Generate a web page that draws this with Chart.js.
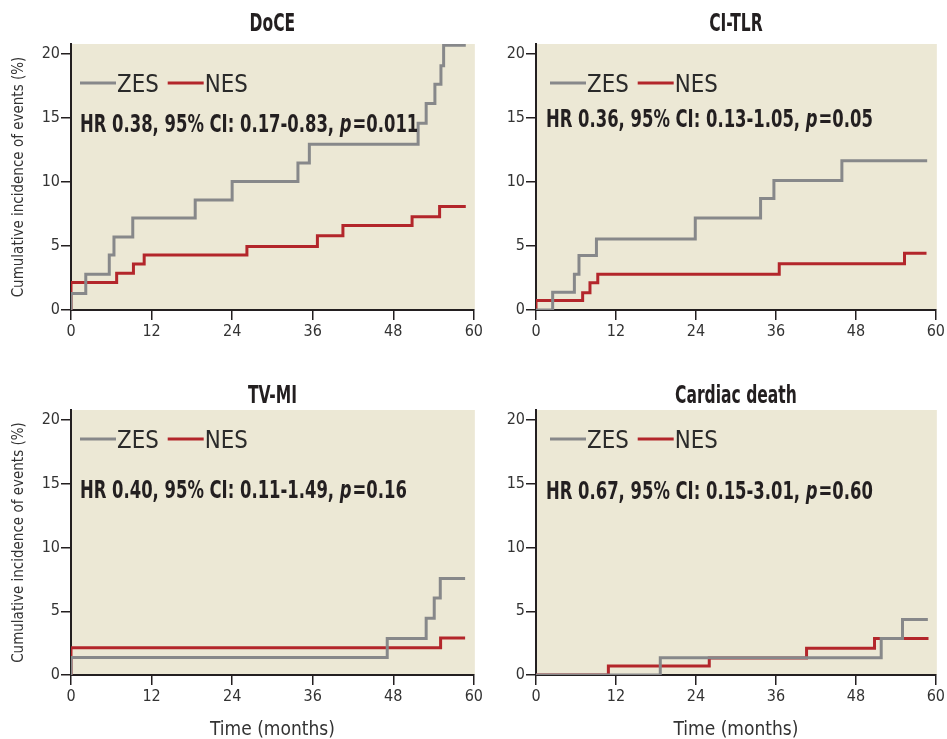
<!DOCTYPE html>
<html>
<head>
<meta charset="utf-8">
<script src="https://cdn.jsdelivr.net/npm/chart.js@4.4.1/dist/chart.umd.min.js"></script>
<style>
  body { margin: 0; background: #fff; }
  #wrap { position: relative; width: 947px; height: 739px; }
  .panel { position: absolute; }
</style>
</head>
<body>
<div id="wrap">
  <div class="panel" id="p1" style="left:0;top:0;width:485px;height:350px"><canvas id="c1"></canvas></div>
  <div class="panel" id="p2" style="left:480px;top:0;width:467px;height:350px"><canvas id="c2"></canvas></div>
  <div class="panel" id="p3" style="left:0;top:366px;width:485px;height:373px"><canvas id="c3"></canvas></div>
  <div class="panel" id="p4" style="left:480px;top:366px;width:467px;height:373px"><canvas id="c4"></canvas></div>
</div>
<script>
// tick labels
const xTickValues = [0, 12, 24, 36, 48, 60];
const yTickValues = [0, 5, 10, 15, 20];
const seriesNames = ["ZES", "NES"];

// DoCE
const doceZesMonths = [0, 0, 2.2, 5.7, 6.4, 9.2, 18.5, 24.0, 33.8, 35.5, 51.7, 52.9, 54.2, 55.1, 55.5, 58.8];
const doceZesPct    = [0, 1.3, 2.8, 4.3, 5.7, 7.2, 8.6, 10.05, 11.5, 12.97, 14.6, 16.15, 17.66, 19.1, 20.7, 20.7];
const doceNesMonths = [0, 0, 6.8, 9.3, 10.9, 26.2, 36.7, 40.5, 50.8, 54.9, 58.8];
const doceNesPct    = [0, 2.16, 2.87, 3.6, 4.3, 4.97, 5.8, 6.6, 7.3, 8.1, 8.1];

// CI-TLR
const tlrZesMonths = [0, 2.5, 5.76, 6.45, 9.07, 23.9, 33.7, 35.7, 45.9, 58.7];
const tlrZesPct    = [0, 1.38, 2.8, 4.27, 5.55, 7.19, 8.72, 10.13, 11.67, 11.67];
const tlrNesMonths = [0, 0, 7.0, 8.1, 9.27, 36.5, 55.3, 58.6];
const tlrNesPct    = [0, 0.75, 1.35, 2.14, 2.8, 3.62, 4.43, 4.43];

// TV-MI
const miZesMonths = [0, 0, 47.1, 52.9, 54.1, 55.0, 58.7];
const miZesPct    = [0, 1.38, 2.87, 4.46, 6.05, 7.57, 7.57];
const miNesMonths = [0, 0, 55.05, 58.7];
const miNesPct    = [0, 2.14, 2.9, 2.9];

// Cardiac death
const cdZesMonths = [0, 18.65, 51.8, 55.0, 58.8];
const cdZesPct    = [0, 1.36, 2.87, 4.36, 4.36];
const cdNesMonths = [0, 10.86, 26.0, 40.6, 50.8, 58.9];
const cdNesPct    = [0, 0.7, 1.33, 2.09, 2.87, 2.87];

const NARROW = '"DejaVu Sans Condensed", "Liberation Sans Narrow", sans-serif';
const ZES_COLOR = '#87888a';
const NES_COLOR = '#b3262b';
const BG = '#ece8d5';
const INK = '#231f20';

function pts(xs, ys) {
    return xs.map(function (x, i) { return { x: x, y: ys[i] }; });
}

// text squeezed sideways to look like the condensed face of the original
function squeezed(ctx, text, x, y, sx) {
    ctx.save();
    ctx.translate(x, y);
    ctx.scale(sx, 1);
    ctx.fillText(text, 0, 0);
    ctx.restore();
    return ctx.measureText(text).width * sx;
}

// background, title, legend and HR note
const panelDecor = {
    id: 'panelDecor',
    beforeDraw: function (chart) {
        const a = chart.chartArea, ctx = chart.ctx;
        ctx.save();
        ctx.fillStyle = BG;
        ctx.fillRect(a.left, a.top, a.right - a.left + 1, a.bottom - a.top);
        ctx.restore();
    },
    afterDraw: function (chart, args, o) {
        const a = chart.chartArea, ctx = chart.ctx;
        ctx.save();
        ctx.fillStyle = INK;
        ctx.textBaseline = 'alphabetic';

        // title
        ctx.font = 'bold 24px ' + NARROW;
        ctx.textAlign = 'center';
        squeezed(ctx, o.title, (a.left + a.right) / 2, o.titleY, 0.72);

        // legend
        ctx.textAlign = 'left';
        let x = a.left + o.legX;
        const ly = a.top + o.legY;
        ctx.font = '25px ' + NARROW;
        [ZES_COLOR, NES_COLOR].forEach(function (c, i) {
            ctx.strokeStyle = c;
            ctx.lineWidth = 3;
            ctx.beginPath();
            ctx.moveTo(x, ly);
            ctx.lineTo(x + 36, ly);
            ctx.stroke();
            ctx.fillStyle = '#2a2a2a';
            const w = squeezed(ctx, seriesNames[i], x + 37, ly + 9, 0.95);
            x += 37 + w + 9;
        });

        // HR note with italic p
        let hx = a.left + o.hrX;
        const hy = a.top + o.hrY;
        const sx = 0.73;
        ctx.fillStyle = INK;
        ctx.font = 'bold 25px ' + NARROW;
        hx += squeezed(ctx, o.hr[0], hx, hy, sx);
        ctx.font = 'italic bold 25px ' + NARROW;
        hx += squeezed(ctx, 'p', hx, hy, sx) + 1;
        ctx.font = 'bold 25px ' + NARROW;
        squeezed(ctx, o.hr[1], hx, hy, sx);
        ctx.restore();
    }
};

function makeChart(id, cfg) {
    new Chart(document.getElementById(id), {
        type: 'line',
        data: {
            datasets: [
                { label: 'ZES', data: pts(cfg.zx, cfg.zy), borderColor: ZES_COLOR, borderWidth: 3,
                  stepped: 'before', pointRadius: 0, fill: false, order: 0 },
                { label: 'NES', data: pts(cfg.nx, cfg.ny), borderColor: NES_COLOR, borderWidth: 3,
                  stepped: 'before', pointRadius: 0, fill: false, order: 1 }
            ]
        },
        options: {
            responsive: true,
            maintainAspectRatio: false,
            animation: false,
            layout: { padding: { top: cfg.padTop, right: cfg.padRight, left: 0, bottom: 0 } },
            plugins: {
                legend: { display: false },
                tooltip: { enabled: false },
                panelDecor: cfg.decor
            },
            scales: {
                x: {
                    type: 'linear', min: 0, max: 60,
                    afterBuildTicks: function (s) { s.ticks = xTickValues.map(function (v) { return { value: v }; }); },
                    afterFit: function (s) { s.height = cfg.xHeight; },
                    border: { display: true, color: INK, width: 2 },
                    grid: { drawOnChartArea: false, drawTicks: true, tickLength: 10, color: INK, lineWidth: 1.5 },
                    ticks: { color: '#333', padding: 2, maxRotation: 0, font: { family: NARROW, size: 16 } },
                    title: { display: cfg.xTitle, text: 'Time (months)', color: '#333',
                             font: { family: NARROW, size: 19 }, padding: { top: 0, bottom: -2 } }
                },
                y: {
                    min: 0, max: 20.8,
                    afterBuildTicks: function (s) { s.ticks = yTickValues.map(function (v) { return { value: v }; }); },
                    afterFit: function (s) { s.width = cfg.yWidth; },
                    border: { display: true, color: INK, width: 2 },
                    grid: { drawOnChartArea: false, drawTicks: true, tickLength: 10, color: INK, lineWidth: 1.5 },
                    ticks: { color: '#333', padding: 1, font: { family: NARROW, size: 16 } },
                    title: { display: cfg.yTitle, text: 'Cumulative incidence of events (%)', color: '#333',
                             font: { family: NARROW, size: 15 }, padding: { top: 10, bottom: 0 } }
                }
            }
        },
        plugins: [panelDecor]
    });
}

makeChart('c1', {
    zx: doceZesMonths, zy: doceZesPct, nx: doceNesMonths, ny: doceNesPct,
    padTop: 44, padRight: 10, yWidth: 71, xHeight: 40, xTitle: false, yTitle: true,
    decor: { title: 'DoCE', titleY: 31, legX: 9, legY: 39, hrX: 9, hrY: 88,
             hr: ['HR 0.38, 95% CI: 0.17-0.83, ', '=0.011'] }
});
makeChart('c2', {
    zx: tlrZesMonths, zy: tlrZesPct, nx: tlrNesMonths, ny: tlrNesPct,
    padTop: 44, padRight: 7, yWidth: 56, xHeight: 40, xTitle: false, yTitle: false,
    decor: { title: 'CI-TLR', titleY: 31, legX: 14, legY: 39, hrX: 10, hrY: 83,
             hr: ['HR 0.36, 95% CI: 0.13-1.05, ', '=0.05'] }
});
makeChart('c3', {
    zx: miZesMonths, zy: miZesPct, nx: miNesMonths, ny: miNesPct,
    padTop: 44, padRight: 10, yWidth: 71, xHeight: 64, xTitle: true, yTitle: true,
    decor: { title: 'TV-MI', titleY: 37, legX: 9, legY: 29, hrX: 9, hrY: 88,
             hr: ['HR 0.40, 95% CI: 0.11-1.49, ', '=0.16'] }
});
makeChart('c4', {
    zx: cdZesMonths, zy: cdZesPct, nx: cdNesMonths, ny: cdNesPct,
    padTop: 44, padRight: 7, yWidth: 56, xHeight: 64, xTitle: true, yTitle: false,
    decor: { title: 'Cardiac death', titleY: 37, legX: 14, legY: 29, hrX: 10, hrY: 89,
             hr: ['HR 0.67, 95% CI: 0.15-3.01, ', '=0.60'] }
});
</script>
</body>
</html>
